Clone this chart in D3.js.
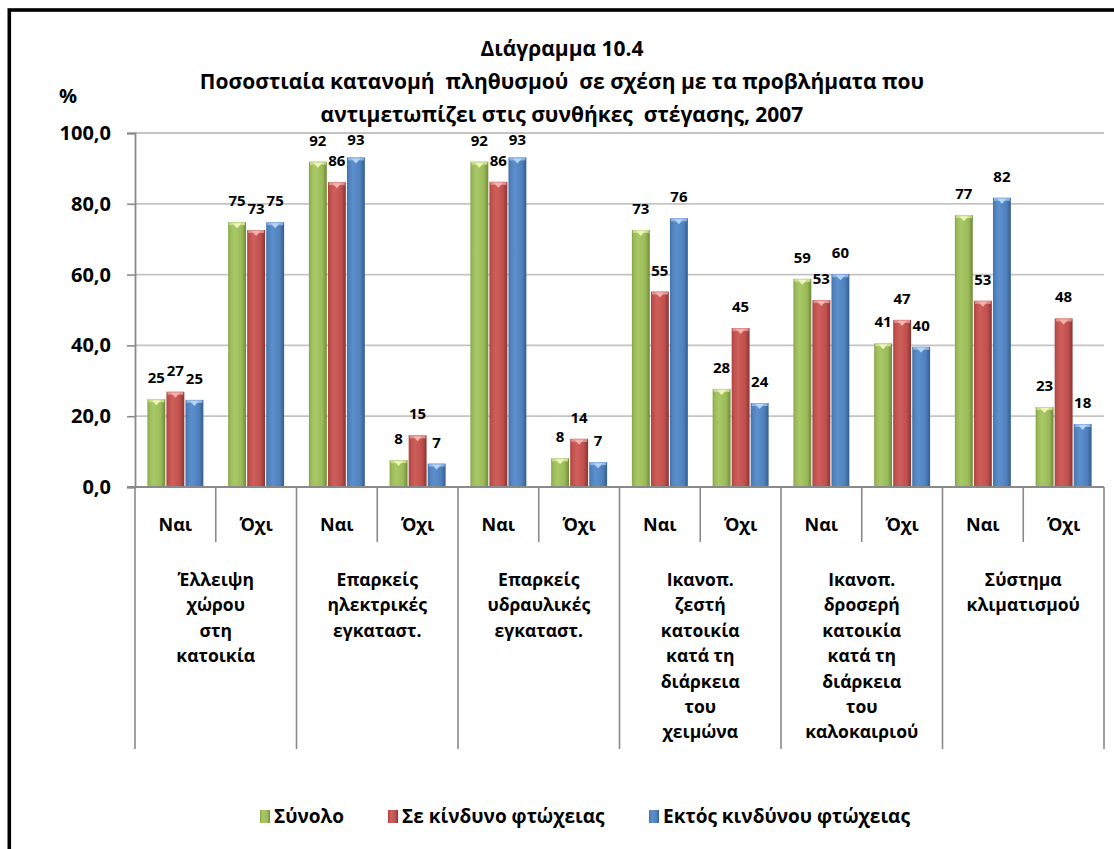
<!DOCTYPE html>
<html>
<head>
<meta charset="utf-8">
<script src="https://cdn.jsdelivr.net/npm/d3@7/dist/d3.min.js"></script>
<style>
  html, body { margin: 0; padding: 0; background: #fff; }
  svg { display: block; font-family: "Open Sans", "Noto Sans", sans-serif; font-weight: bold; }
</style>
</head>
<body>
<svg id="chart" width="1114" height="849"></svg>
<script>
// ---------- data ----------
const titleLines = ["Διάγραμμα 10.4",
  "Ποσοστιαία κατανομή  πληθυσμού  σε σχέση με τα προβλήματα που",
  "αντιμετωπίζει στις συνθήκες  στέγασης, 2007"];
const groupLabels = [
  ["Έλλειψη", "χώρου", "στη", "κατοικία"],
  ["Επαρκείς", "ηλεκτρικές", "εγκαταστ."],
  ["Επαρκείς", "υδραυλικές", "εγκαταστ."],
  ["Ικανοπ.", "ζεστή", "κατοικία", "κατά τη", "διάρκεια", "του", "χειμώνα"],
  ["Ικανοπ.", "δροσερή", "κατοικία", "κατά τη", "διάρκεια", "του", "καλοκαιριού"],
  ["Σύστημα", "κλιματισμού"]
];
const answers = ["Ναι", "Όχι"];
const seriesNames = ["Σύνολο", "Σε κίνδυνο φτώχειας", "Εκτός κινδύνου φτώχειας"];
const totalValues     = [24.8, 74.8, 91.9, 7.6, 91.9, 8.1, 72.6, 27.7, 58.8, 40.6, 76.8, 22.6];
const atRiskValues    = [26.9, 72.6, 86.1, 14.6, 86.2, 13.6, 55.2, 44.9, 52.8, 47.2, 52.6, 47.6];
const notAtRiskValues = [24.6, 74.8, 93.1, 6.6, 93.1, 7.0, 75.9, 23.7, 60.1, 39.6, 81.7, 17.8];
const yTicks = [0, 20, 40, 60, 80, 100];
const yUnit = "%";

// ---------- setup ----------
const svg = d3.select("#chart");
const seriesValues = [totalValues, atRiskValues, notAtRiskValues];
const cats = [];
groupLabels.forEach((g, gi) => answers.forEach((a, ai) => cats.push(gi * answers.length + ai)));

const plot = { left: 135, right: 1104, top: 133, bottom: 487 };
const x = d3.scaleBand().domain(cats).range([plot.left, plot.right]).padding(0);
const xs = d3.scaleBand().domain(d3.range(seriesNames.length))
  .range([12.4, x.bandwidth() - 12.4]).paddingInner(0.06);
const y = d3.scaleLinear().domain([0, 100]).range([plot.bottom, plot.top]);

const fmtLocale = d3.formatLocale({ decimal: ",", thousands: ".", grouping: [3], currency: ["", "€"] });
const tickFmt = fmtLocale.format(".1f");
const labelFmt = d3.format(".0f");

// outer frame (right & bottom edges fall outside the view)
svg.append("rect").attr("x", 9.3).attr("y", 10).attr("width", 1300).attr("height", 1000)
  .attr("fill", "none").attr("stroke", "#000").attr("stroke-width", 3.6);

// gradients
const colors = [
  { edgeL: "#86a247", hi: "#a9c867", mid: "#9bbb59", edgeR: "#6f8937", cap: "#c7dc8f", tri: "#eef5b8" },
  { edgeL: "#a84340", hi: "#cf5f5b", mid: "#c0504d", edgeR: "#8a3431", cap: "#e0908c", tri: "#f7b3b0" },
  { edgeL: "#4371a8", hi: "#5d8fcc", mid: "#4f81bd", edgeR: "#355d8c", cap: "#8fb4e2", tri: "#b4d6fa" }
];
const defs = svg.append("defs");
colors.forEach((c, i) => {
  const g = defs.append("linearGradient").attr("id", "g" + i).attr("x1", 0).attr("x2", 1).attr("y1", 0).attr("y2", 0);
  g.append("stop").attr("offset", "0%").attr("stop-color", c.edgeL);
  g.append("stop").attr("offset", "12%").attr("stop-color", c.mid);
  g.append("stop").attr("offset", "35%").attr("stop-color", c.hi);
  g.append("stop").attr("offset", "75%").attr("stop-color", c.mid);
  g.append("stop").attr("offset", "100%").attr("stop-color", c.edgeR);
});

// gridlines
svg.append("g").selectAll("line").data(yTicks.filter(t => t > 0)).join("line")
  .attr("x1", plot.left).attr("x2", plot.right)
  .attr("y1", d => y(d)).attr("y2", d => y(d))
  .attr("stroke", "#c4c4c4").attr("stroke-width", 1.8);

// y axis
const yAxis = svg.append("g").attr("transform", `translate(${plot.left},0)`)
  .call(d3.axisLeft(y).tickValues(yTicks).tickFormat(tickFmt).tickSize(8).tickPadding(16));
yAxis.select(".domain").attr("stroke", "#8a8a8a").attr("stroke-width", 1.8);
yAxis.selectAll(".tick line").attr("stroke", "#8a8a8a").attr("stroke-width", 1.6);
yAxis.selectAll(".tick text").attr("font-size", 20).attr("font-weight", "bold")
  .attr("font-family", "Open Sans").attr("fill", "#000");

// "%" label
svg.append("text").attr("x", 59).attr("y", 103).attr("font-size", 20).text(yUnit);

// bars
const barsG = svg.append("g");
seriesValues.forEach((vals, si) => {
  const g = barsG.append("g");
  const bx = i => x(i) + xs(si);
  const bw = xs.bandwidth();
  g.selectAll("rect.bar").data(vals).join("rect").attr("class", "bar")
    .attr("x", (d, i) => bx(i)).attr("width", bw)
    .attr("y", d => y(d)).attr("height", d => y(0) - y(d))
    .attr("fill", `url(#g${si})`);
  g.selectAll("rect.cap").data(vals).join("rect").attr("class", "cap")
    .attr("x", (d, i) => bx(i) + 1).attr("width", bw - 2)
    .attr("y", d => y(d)).attr("height", 3)
    .attr("fill", colors[si].cap);
  g.selectAll("path.tri").data(vals).join("path").attr("class", "tri")
    .attr("d", (d, i) => {
      const cx = bx(i) + bw / 2, t = y(d);
      return `M${cx - 4.5},${t + 1}L${cx + 4.5},${t + 1}L${cx},${t + 6}Z`;
    })
    .attr("fill", colors[si].tri);
  g.selectAll("text").data(vals).join("text")
    .attr("x", (d, i) => bx(i) + bw / 2)
    .attr("y", d => Math.max(y(d) - 16, 145))
    .attr("text-anchor", "middle").attr("font-size", 15)
    .text(d => labelFmt(d));
});

// x axis line
svg.append("line").attr("x1", plot.left - 8).attr("x2", plot.right)
  .attr("y1", y(0)).attr("y2", y(0)).attr("stroke", "#8a8a8a").attr("stroke-width", 1.8);

// separators
const boundaries = d3.range(cats.length + 1);
svg.append("g").selectAll("line").data(boundaries).join("line")
  .attr("x1", i => plot.left + i * x.step()).attr("x2", i => plot.left + i * x.step())
  .attr("y1", y(0)).attr("y2", i => i % answers.length === 0 ? 749 : 542)
  .attr("stroke", "#8a8a8a").attr("stroke-width", 1.6);

// Ναι / Όχι labels
svg.append("g").selectAll("text").data(cats).join("text")
  .attr("x", i => x(i) + x.bandwidth() / 2).attr("y", 530.5)
  .attr("text-anchor", "middle").attr("font-size", 18)
  .text(i => answers[i % answers.length]);

// group labels
svg.append("g").selectAll("text").data(groupLabels).join("text")
  .attr("text-anchor", "middle").attr("font-size", 17.5)
  .each(function (lines, gi) {
    const cx = x(gi * answers.length) + x.step();
    d3.select(this).selectAll("tspan").data(lines).join("tspan")
      .attr("x", cx).attr("y", (d, li) => 586 + li * 25.4).text(d => d);
  });

// title
svg.append("g").selectAll("text").data(titleLines).join("text")
  .attr("x", 562).attr("y", (d, i) => 56 + i * 33)
  .attr("text-anchor", "middle").attr("font-size", 21)
  .attr("xml:space", "preserve").style("white-space", "pre")
  .text(d => d);

// legend
const legendX = [274, 402, 663];
const lg = svg.append("g").selectAll("g").data(seriesNames).join("g")
  .attr("transform", (d, i) => `translate(${legendX[i]},0)`);
lg.append("rect").attr("x", -14).attr("y", 810).attr("width", 10).attr("height", 13)
  .attr("fill", (d, i) => `url(#g${i})`);
lg.append("text").attr("x", 0).attr("y", 823).attr("font-size", 19).text(d => d);
</script>
</body>
</html>
